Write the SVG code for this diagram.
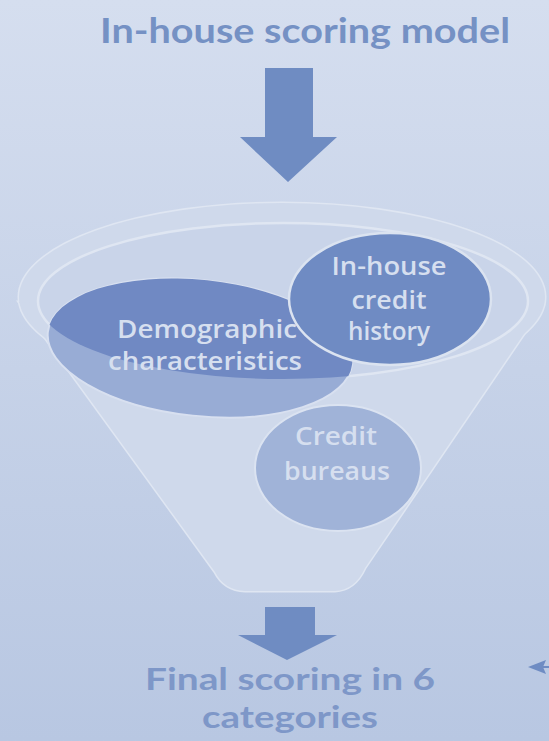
<svg xmlns="http://www.w3.org/2000/svg" width="549" height="741" viewBox="0 0 549 741">
  <defs>
    <linearGradient id="bg" x1="0" y1="0" x2="0" y2="1">
      <stop offset="0" stop-color="#d5deef"/>
      <stop offset="0.5" stop-color="#c6d2e8"/>
      <stop offset="1" stop-color="#b8c7e2"/>
    </linearGradient>
    <clipPath id="innerClip">
      <ellipse cx="283" cy="301" rx="245" ry="78"/>
    </clipPath>
    <style>
      .title { font-family: Lato, "Open Sans", "DejaVu Sans", sans-serif; font-weight: 700; fill: #7591c4; text-anchor: middle; }
      .result { fill: #7e97c8; }
      .lbl { font-family: "Open Sans", "DejaVu Sans", sans-serif; font-weight: 600; font-size: 25px; fill: #d6dfef; text-anchor: middle; }
      .arrow { fill: #6f8cc2; }
      .funnel { fill: #cfd9eb; stroke: #dfe6f2; stroke-width: 3; }
      .funnelfill { fill: #cfd9eb; }
    </style>
  </defs>
  <rect width="549" height="741" fill="url(#bg)"/>

  <g id="title">
    <text class="title" x="305" y="43" font-size="34" textLength="410" lengthAdjust="spacingAndGlyphs">In-house scoring model</text>
  </g>

  <g id="top-arrow">
    <path class="arrow" d="M265 68 H313 V137 H337 L288 182 L240 137 H265 Z"/>
  </g>

  <g id="funnel">
    <ellipse class="funnel" cx="282" cy="297" rx="263" ry="94"/>
    <path class="funnel" d="M19 302 L215 572 Q224 590 245 591 L335 591 Q355 590 365 568 L543 306 Z"/>
    <ellipse class="funnelfill" cx="282" cy="297" rx="263" ry="94"/>
    <path class="funnelfill" d="M19 302 L215 572 Q224 590 245 591 L335 591 Q355 590 365 568 L543 306 Z"/>
    <ellipse cx="283" cy="301" rx="245" ry="78" fill="#c9d4e9" stroke="#dfe6f2" stroke-width="2.5"/>
  </g>

  <g id="credit-bureaus">
    <ellipse cx="338" cy="468" rx="83" ry="63" fill="#a0b3d8" stroke="#dbe3f1" stroke-width="2"/>
    <text class="lbl" x="336" y="445" fill="#d2dbee" textLength="82" lengthAdjust="spacingAndGlyphs">Credit</text>
    <text class="lbl" x="337" y="480" fill="#d2dbee" textLength="106" lengthAdjust="spacingAndGlyphs">bureaus</text>
  </g>

  <g id="demographic">
    <ellipse cx="200" cy="348" rx="153" ry="68" transform="rotate(6 200 348)" fill="#98acd5" stroke="#d8e0f0" stroke-width="2"/>
    <g clip-path="url(#innerClip)">
      <ellipse cx="200" cy="348" rx="153" ry="68" transform="rotate(6 200 348)" fill="#7089c3"/>
    </g>
    <text class="lbl" x="207" y="338" textLength="180" lengthAdjust="spacingAndGlyphs">Demographic</text>
    <text class="lbl" x="205" y="370" textLength="194" lengthAdjust="spacingAndGlyphs">characteristics</text>
  </g>

  <g id="inhouse-history">
    <ellipse cx="390" cy="299" rx="101" ry="66" fill="#6f8bc3" stroke="#dbe3f0" stroke-width="2.5"/>
    <text class="lbl" x="389" y="275" textLength="115" lengthAdjust="spacingAndGlyphs">In-house</text>
    <text class="lbl" x="389" y="309" textLength="75" lengthAdjust="spacingAndGlyphs">credit</text>
    <text class="lbl" x="389" y="340" font-size="22" textLength="82" lengthAdjust="spacingAndGlyphs">history</text>
  </g>

  <g id="connectors">
    <path class="arrow" d="M265 607 H315 V635 H337 L287 660 L238 635 H265 Z"/>
    <path d="M549 667 H540" stroke="#6f8cc3" stroke-width="2"/>
    <path d="M528 667 L546 660 L543 667 L546 674 Z" fill="#6f8cc3"/>
  </g>

  <g id="result">
    <text class="title result" x="290" y="690" font-size="31" textLength="290" lengthAdjust="spacingAndGlyphs">Final scoring in 6</text>
    <text class="title result" x="290" y="728" font-size="31" textLength="176" lengthAdjust="spacingAndGlyphs">categories</text>
  </g>
</svg>
